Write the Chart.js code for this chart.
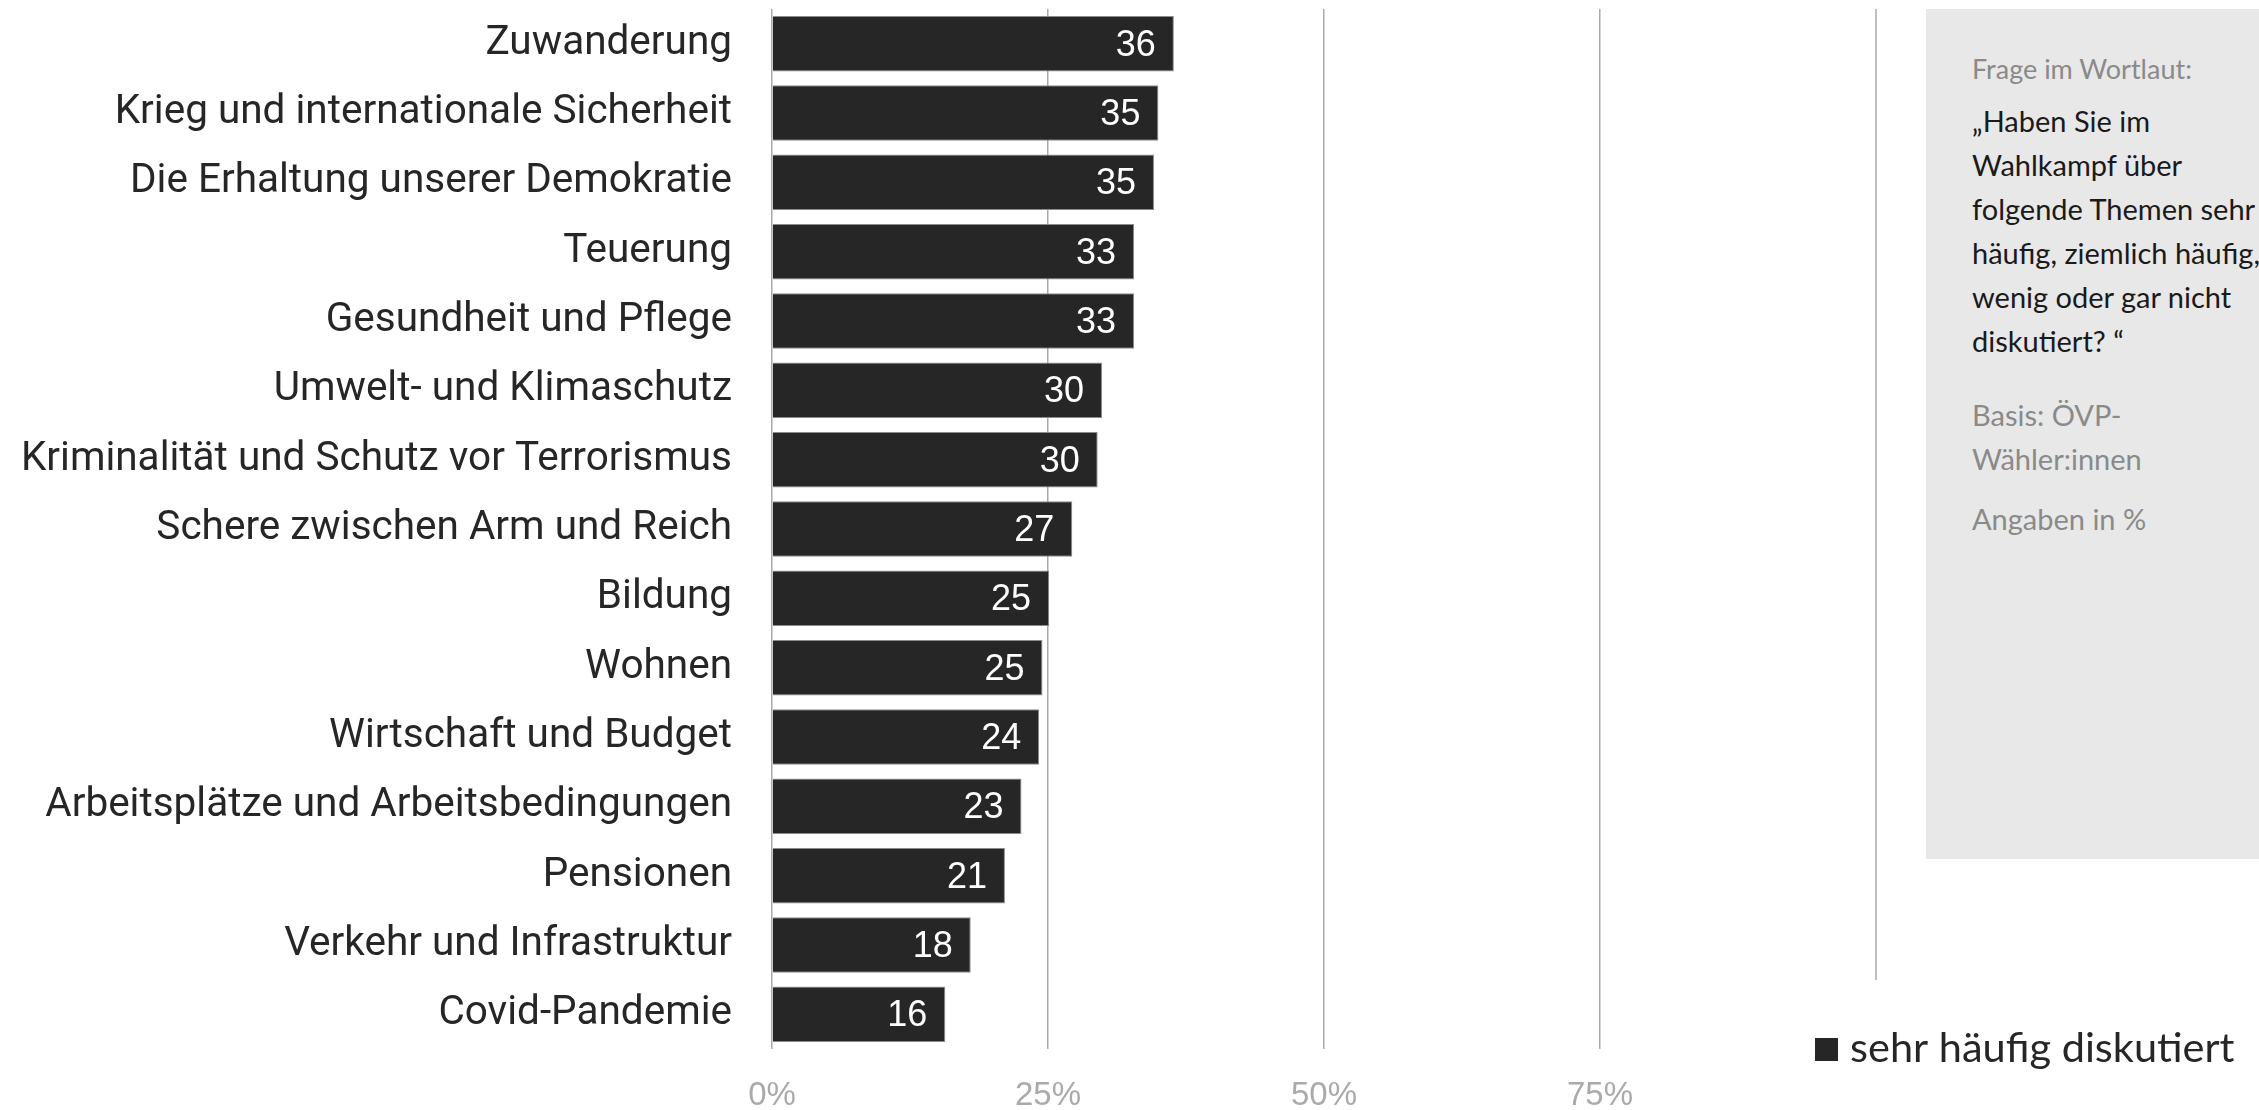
<!DOCTYPE html>
<html>
<head>
<meta charset="utf-8">
<script src="https://cdn.jsdelivr.net/npm/chart.js@4"></script>
<style>
  html, body { margin: 0; padding: 0; background: #fff; overflow: hidden; }
  #wrap { position: relative; width: 2259px; height: 1110px; }
  #note {
    position: absolute; left: 1926px; top: 9px; width: 400px; height: 850px;
    background: #e8e8e8; font-family: Lato, sans-serif; font-size: 29px;
    line-height: 44px; white-space: nowrap;
  }
  #note div { position: absolute; left: 46px; }
  .grey { color: #8a8a8a; }
  .dark { color: #1a1a1a; }
</style>
</head>
<body>
<div id="wrap">
  <canvas id="myChart" width="2259" height="1110"></canvas>
  <div id="note">
    <div class="grey" style="top:38px; font-size:27px">Frage im Wortlaut:</div>
    <div class="dark" style="top:90px">„Haben Sie im<br>Wahlkampf über<br>folgende Themen sehr<br>häufig, ziemlich häufig,<br>wenig oder gar nicht<br>diskutiert? “</div>
    <div class="grey" style="top:384px">Basis: ÖVP-<br>Wähler:innen</div>
    <div class="grey" style="top:488px">Angaben in %</div>
  </div>
</div>
<script>
let topics = [
  "Zuwanderung",
  "Krieg und internationale Sicherheit",
  "Die Erhaltung unserer Demokratie",
  "Teuerung",
  "Gesundheit und Pflege",
  "Umwelt- und Klimaschutz",
  "Kriminalität und Schutz vor Terrorismus",
  "Schere zwischen Arm und Reich",
  "Bildung",
  "Wohnen",
  "Wirtschaft und Budget",
  "Arbeitsplätze und Arbeitsbedingungen",
  "Pensionen",
  "Verkehr und Infrastruktur",
  "Covid-Pandemie",
];
let sehrHaeufig = [36.4, 35.0, 34.6, 32.8, 32.8, 29.9, 29.5, 27.2, 25.1, 24.5, 24.2, 22.6, 21.1, 18.0, 15.7];
let seriesName = "sehr häufig diskutiert";
let xTicks = [0, 25, 50, 75, 100];

const barColor = "#262626";

// numbers inside the bars, right aligned
const valueLabels = {
  id: "valueLabels",
  afterDatasetsDraw(chart) {
    const ctx = chart.ctx;
    const meta = chart.getDatasetMeta(0);
    ctx.save();
    ctx.fillStyle = "#ffffff";
    ctx.font = "36px 'Liberation Sans', Arial, sans-serif";
    ctx.textAlign = "right";
    ctx.textBaseline = "middle";
    meta.data.forEach((bar, i) => {
      ctx.fillText(Math.round(sehrHaeufig[i]), bar.x - 18, bar.y + 2);
    });
    ctx.restore();
  },
};

// 100% line (shorter) and legend at the bottom right
const extras = {
  id: "extras",
  beforeDatasetsDraw(chart) {
    const ctx = chart.ctx;
    const x = chart.scales.x.getPixelForValue(100);
    ctx.save();
    ctx.strokeStyle = "#aaaaaa";
    ctx.lineWidth = 1.5;
    ctx.beginPath();
    ctx.moveTo(x, chart.chartArea.top);
    ctx.lineTo(x, 980);
    ctx.stroke();
    ctx.restore();
  },
  afterDraw(chart) {
    const ctx = chart.ctx;
    ctx.save();
    ctx.fillStyle = barColor;
    ctx.fillRect(1815, 1038, 23, 23);
    ctx.font = "41.5px Lato, sans-serif";
    ctx.textBaseline = "middle";
    ctx.fillText(seriesName, 1850, 1049);
    ctx.restore();
  },
};

const ctx = document.getElementById("myChart");
new Chart(ctx, {
  type: "bar",
  data: {
    labels: topics,
    datasets: [
      {
        label: seriesName,
        data: sehrHaeufig,
        backgroundColor: barColor,
        borderColor: "#8c8c8c",
        borderWidth: 1,
        barPercentage: 0.8,
        categoryPercentage: 1.0,
      },
    ],
  },
  options: {
    indexAxis: "y",
    responsive: false,
    animation: false,
    layout: { padding: { top: 9, right: 383, left: 0, bottom: 0 } },
    plugins: {
      legend: { display: false },
      tooltip: { enabled: false },
    },
    scales: {
      x: {
        min: 0,
        max: 100,
        afterBuildTicks(axis) {
          axis.ticks = xTicks.map((v) => ({ value: v }));
        },
        afterFit(axis) {
          axis.height = 61;
          axis.paddingLeft = 0;
          axis.paddingRight = 0;
        },
        border: { display: false },
        grid: {
          drawTicks: false,
          lineWidth: 1.5,
          color: (c) => (c.tick && c.tick.value === 100 ? "rgba(0,0,0,0)" : "#aaaaaa"),
        },
        ticks: {
          padding: 27,
          color: "#aaaaaa",
          font: { family: "'Liberation Sans', Arial, sans-serif", size: 33 },
          callback: (v) => (v === 100 ? "" : v + "%"),
        },
      },
      y: {
        afterFit(axis) {
          axis.width = 772;
          axis.paddingTop = 0;
          axis.paddingBottom = 0;
        },
        border: { display: false },
        grid: { display: false },
        ticks: {
          padding: 32,
          color: "#262626",
          font: { family: "Roboto, sans-serif", size: 40.5 },
          autoSkip: false,
        },
      },
    },
  },
  plugins: [valueLabels, extras],
});
</script>
</body>
</html>
